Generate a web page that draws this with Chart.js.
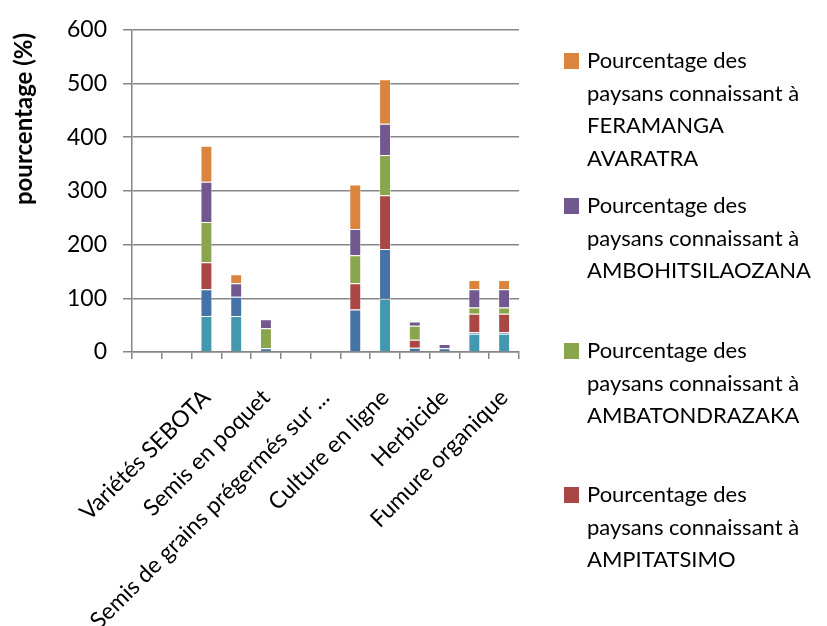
<!DOCTYPE html>
<html lang="fr">
<head>
  <meta charset="UTF-8">
  <title>Pourcentage des paysans connaissant les techniques</title>
  <script src="https://cdn.jsdelivr.net/npm/chart.js"></script>
  <style>
    body {
      margin: 0;
      padding: 0;
      background: #fff;
      font-family: Lato, sans-serif;
    }

    .wrap {
      position: relative;
      width: 827px;
      height: 626px;
      overflow: hidden;
    }

    canvas {
      position: absolute;
      left: 0;
      top: 0;
    }

    .legend .box {
      position: absolute;
      left: 564px;
      width: 15px;
      height: 16px;
    }

    .legend .txt {
      position: absolute;
      left: 587px;
      width: 222px;
      font-size: 22px;
      line-height: 32.5px;
      color: #000;
    }
  </style>
</head>
<body>

  <div class="wrap">
    <canvas id="chart" width="827" height="626"></canvas>
    <div class="legend" id="legend"></div>
  </div>

  <script>
    // categories (Excel shows only every other label)
    const categories = ['', '', 'Variétés SEBOTA', '', 'Semis en poquet', '',
      'Semis de grains prégermés sur ...', '', 'Culture en ligne', '', 'Herbicide', '', 'Fumure organique'];

    // series, from bottom of the stack to the top
    const teal   = [0, 0, 67, 67, 0, 0, 0, 0, 99, 0, 0, 34, 34];
    const blue   = [0, 0, 50, 36, 7, 0, 0, 79, 93, 8, 7, 3, 3];
    const red    = [0, 0, 50, 0, 0, 0, 0, 49, 100, 15, 0, 34, 34];
    const green  = [0, 0, 75, 0, 37, 0, 0, 52, 75, 26, 0, 12, 12];
    const purple = [0, 0, 75, 25, 17, 0, 0, 49, 58, 8, 8, 34, 34];
    const orange = [0, 0, 67, 17, 0, 0, 0, 83, 83, 0, 0, 17, 17];

    const seriesNames = [
      'Série 1',
      'Série 2',
      'Pourcentage des paysans connaissant à AMPITATSIMO',
      'Pourcentage des paysans connaissant à AMBATONDRAZAKA',
      'Pourcentage des paysans connaissant à AMBOHITSILAOZANA',
      'Pourcentage des paysans connaissant à FERAMANGA AVARATRA'
    ];
    const seriesColors = ['#4198AF', '#4572A7', '#AA4643', '#89A54E', '#71588F', '#DB843D'];
    const seriesData = [teal, blue, red, green, purple, orange];

    const yTicks = [0, 100, 200, 300, 400, 500, 600];
    const yTitleText = 'pourcentage (%)';

    const axisGrey = '#868686';
    const font = { family: 'Lato', size: 23 };

    // y axis title sits higher than the plot centre, so draw it by hand
    const yTitle = {
      id: 'yTitle',
      afterDraw(chart) {
        const c = chart.ctx;
        c.save();
        c.translate(24, 119);
        c.rotate(-Math.PI / 2);
        c.font = 'bold 24px Lato';
        c.fillStyle = '#000';
        c.textAlign = 'center';
        c.textBaseline = 'middle';
        c.fillText(yTitleText, 0, 0);
        c.restore();
      }
    };

    const ctx = document.getElementById('chart').getContext('2d');
    const chart = new Chart(ctx, {
      type: 'bar',
      data: {
        labels: categories,
        datasets: seriesData.map((d, i) => ({
          label: seriesNames[i],
          data: d,
          backgroundColor: seriesColors[i],
          borderColor: 'rgba(255,255,255,0.45)',
          borderWidth: c => (c.raw ? 1 : 0),
          barPercentage: 0.4,
          categoryPercentage: 1
        }))
      },
      options: {
        responsive: false,
        animation: false,
        devicePixelRatio: 1,
        layout: { padding: { left: 0, top: 20, right: 308, bottom: 0 } },
        plugins: {
          legend: { display: false },
          tooltip: { enabled: false }
        },
        scales: {
          x: {
            stacked: true,
            grid: {
              display: true,
              offset: true,
              drawOnChartArea: false,
              drawTicks: true,
              tickLength: 7,
              color: axisGrey,
              lineWidth: 1.5
            },
            border: { display: true, color: axisGrey, width: 1.5 },
            ticks: {
              autoSkip: false,
              maxRotation: 45,
              minRotation: 45,
              padding: 25,
              color: '#000',
              font: font
            },
            afterFit: s => { s.height = 274; }
          },
          y: {
            stacked: true,
            min: yTicks[0],
            max: yTicks[yTicks.length - 1],
            ticks: {
              stepSize: 100,
              padding: 16,
              color: '#000',
              font: font
            },
            grid: { color: axisGrey, lineWidth: 1.5, tickLength: 9 },
            border: { display: true, color: axisGrey, width: 1.5 },
            afterFit: s => { s.width = 132; }
          }
        }
      },
      plugins: [yTitle]
    });

    // legend: Excel lists the stack top first, and the first two entries are cut off
    const legendTops = [44, 189, 334, 478];
    const legend = document.getElementById('legend');
    [5, 4, 3, 2].forEach((idx, k) => {
      const box = document.createElement('div');
      box.className = 'box';
      box.style.top = (legendTops[k] + 9) + 'px';
      box.style.background = seriesColors[idx];
      const txt = document.createElement('div');
      txt.className = 'txt';
      txt.style.top = legendTops[k] + 'px';
      txt.textContent = chart.data.datasets[idx].label;
      legend.appendChild(box);
      legend.appendChild(txt);
    });
  </script>

</body>
</html>
